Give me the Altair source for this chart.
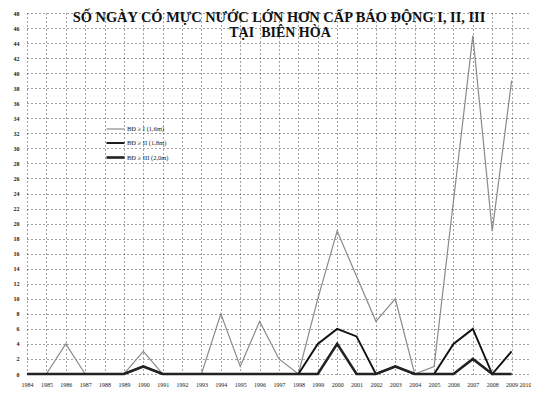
import altair as alt
import pandas as pd

years = list(range(1984, 2010))
bd1 = [0, 0, 4, 0, 0, 0, 3, 0, 0, 0, 8, 1, 7, 2, 0, 10, 19, 13, 7, 10, 0, 1, 23, 45, 19, 39]
bd2 = [0, 0, 0, 0, 0, 0, 1, 0, 0, 0, 0, 0, 0, 0, 0, 4, 6, 5, 0, 1, 0, 0, 4, 6, 0, 3]
bd3 = [0, 0, 0, 0, 0, 0, 1, 0, 0, 0, 0, 0, 0, 0, 0, 0, 4, 0, 0, 1, 0, 0, 0, 2, 0, 0]
series_names = ["BĐ ≥ I (1,6m)", "BĐ ≥ II (1,8m)", "BĐ ≥ III (2,0m)"]
x_ticks = list(range(1984, 2011))
y_ticks = list(range(0, 49, 2))
title_lines = ["SỐ NGÀY CÓ MỰC NƯỚC LỚN HƠN CẤP BÁO ĐỘNG I, II, III", "TẠI\u00a0\u00a0BIÊN HÒA"]

rows = []
for name, vals in zip(series_names, [bd1, bd2, bd3]):
    for y, v in zip(years, vals):
        rows.append({"year": y, "days": v, "series": name})
df = pd.DataFrame(rows)

W, H = 504, 361

legend_cfg = dict(title=None, orient="none", legendX=78, legendY=106,
                  symbolType="stroke", symbolSize=324,
                  labelFont="Liberation Serif", labelFontSize=6.5,
                  labelColor="#222", rowPadding=-3, symbolOffset=0,
                  labelOffset=1)

lines = alt.Chart(df).mark_line(strokeJoin="miter").encode(
    x=alt.X("year:Q", scale=alt.Scale(domain=[1984, 2010], nice=False, zero=False),
            axis=alt.Axis(values=x_ticks, format="d", title=None, grid=True,
                          gridColor="#444", gridDash=[1, 3], gridWidth=1,
                          domain=False, ticks=False, labelPadding=7,
                          labelFont="Liberation Serif", labelFontSize=6,
                          labelAlign={"expr": "datum.value == 2010 ? 'right' : 'center'"},
                          labelColor="#222", labelFlush=False, labelOverlap=False)),
    y=alt.Y("days:Q", scale=alt.Scale(domain=[0, 48], nice=False),
            axis=alt.Axis(values=y_ticks, title=None, grid=True,
                          gridColor="#444", gridDash=[1, 3], gridWidth=1,
                          domain=False, ticks=False, labelPadding=8,
                          labelFont="Liberation Serif", labelFontSize=6,
                          labelFontWeight="bold",
                          labelColor="#222", labelOverlap=False)),
    color=alt.Color("series:N",
                    scale=alt.Scale(domain=series_names, range=["#8a8a8a", "#111111", "#222222"]),
                    legend=alt.Legend(**legend_cfg)),
    strokeWidth=alt.StrokeWidth("series:N",
                                scale=alt.Scale(domain=series_names, range=[1.2, 2.6, 2.3]),
                                legend=alt.Legend(**legend_cfg)),
    order=alt.Order("series:N"),
)

t1 = alt.Chart(pd.DataFrame({"t": [title_lines[0]]})).mark_text(
    font="Liberation Serif", fontSize=14.4, fontWeight="bold", color="#111",
    align="center", baseline="alphabetic"
).encode(text="t:N", x=alt.value(252), y=alt.value(9))

t2 = alt.Chart(pd.DataFrame({"t": [title_lines[1]]})).mark_text(
    font="Liberation Serif", fontSize=14, fontWeight="bold", color="#111",
    align="center", baseline="alphabetic"
).encode(text="t:N", x=alt.value(253), y=alt.value(24))

chart = alt.layer(lines, t1, t2).properties(
    width=W, height=H,
    autosize=alt.AutoSizeParams(type="none"),
    padding={"left": 19, "top": 5, "right": 0, "bottom": 20},
    background="white",
).configure_view(stroke=None)

chart.save("out.html", embed_options={"renderer": "svg", "actions": False})
